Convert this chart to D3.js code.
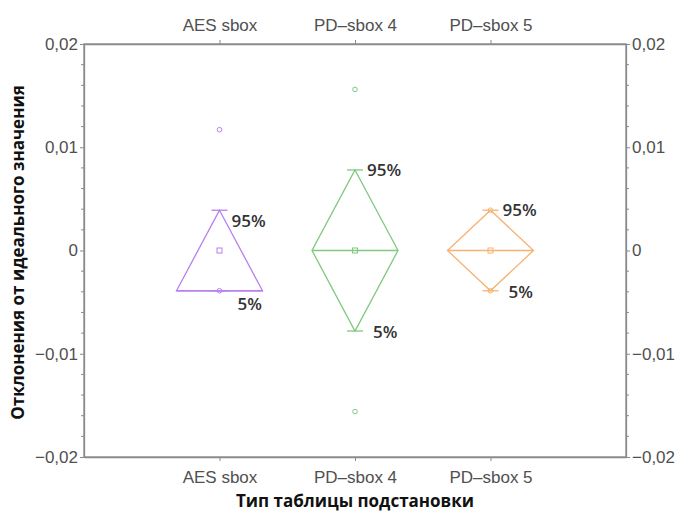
<!DOCTYPE html>
<html>
<head>
<meta charset="utf-8">
<script src="https://cdn.jsdelivr.net/npm/d3@7"></script>
<style>
  body { margin: 0; background: #fff; }
  svg { font-family: "Open Sans", "Noto Sans", sans-serif; }
</style>
</head>
<body>
<svg></svg>
<script>
// категории и значения
const categories = ["AES sbox", "PD–sbox 4", "PD–sbox 5"];
const colors = ["#b77ff2", "#80c880", "#f6b273"];
const means = [0, 0, 0];
const p95 = [0.0039, 0.0078, 0.0039];
const p5 = [-0.0039, -0.0078, -0.0039];
const widest = [-0.0039, 0, 0];          // уровень, где фигура самая широкая
const outliers = [[0.0117], [0.0156, -0.0156], []];
const circleMarks = [[-0.0039], [], [0.0039, -0.0039]];
const yTicks = [-0.02, -0.01, 0, 0.01, 0.02];

document.addEventListener("DOMContentLoaded", function() {
    const width = 682;
    const height = 512;
    const svg = d3.select("svg")
        .attr("width", width)
        .attr("height", height);

    const left = 84, right = 626, top = 44, bottom = 457;

    const x = d3.scalePoint()
        .domain(categories)
        .range([left, right])
        .padding(1);

    const y = d3.scaleLinear()
        .domain([-0.02, 0.02])
        .range([bottom, top]);

    const ru = d3.formatLocale({decimal: ",", thousands: " ", grouping: [3], currency: ["", ""], minus: "\u2212"});
    const fmt = v => v === 0 ? "0" : ru.format(".2f")(v);

    const minor = d3.range(-0.02, 0.0201, 0.002).map(v => +v.toFixed(4));

    // оси
    const axes = [
        {g: d3.axisLeft(y).tickValues(yTicks).tickFormat(fmt).tickSize(4).tickPadding(2), t: `translate(${left},0)`},
        {g: d3.axisRight(y).tickValues(yTicks).tickFormat(fmt).tickSize(4).tickPadding(2), t: `translate(${right},0)`},
        {g: d3.axisBottom(x).tickSize(4).tickPadding(10), t: `translate(0,${bottom})`},
        {g: d3.axisTop(x).tickSize(4).tickPadding(9), t: `translate(0,${top})`}
    ];
    axes.forEach(a => {
        const ax = svg.append("g")
            .attr("transform", a.t)
            .call(a.g.tickSizeOuter(0));
        ax.select(".domain").attr("stroke", "#8a8a8a").attr("stroke-width", 1.3);
        ax.selectAll(".tick line").attr("stroke", "#8a8a8a");
        ax.selectAll(".tick text").attr("fill", "#505050").style("font-size", "17px");
    });
    // рамка
    svg.append("rect")
        .attr("x", left).attr("y", top)
        .attr("width", right - left).attr("height", bottom - top)
        .attr("fill", "none").attr("stroke", "#8a8a8a").attr("stroke-width", 1.3);

    // мелкие засечки
    [[left, -1], [right, 1]].forEach(([ax, dir]) => {
        svg.append("g").selectAll("line")
            .data(minor.filter(v => !yTicks.some(t => Math.abs(t - v) < 1e-9)))
            .join("line")
            .attr("x1", ax).attr("x2", ax + dir * 3)
            .attr("y1", d => y(d)).attr("y2", d => y(d))
            .attr("stroke", "#8a8a8a");
    });

    // подписи осей
    svg.append("text")
        .attr("x", (left + right) / 2)
        .attr("y", 507)
        .attr("text-anchor", "middle")
        .style("font-size", "17px")
        .style("font-weight", "bold")
        .attr("fill", "#111")
        .text("Тип таблицы подстановки");

    svg.append("text")
        .attr("transform", `translate(24,${(top + bottom) / 2 + 2}) rotate(-90)`)
        .attr("text-anchor", "middle")
        .style("font-size", "17px")
        .style("font-weight", "bold")
        .attr("fill", "#111")
        .text("Отклонения от идеального значения");

    // фигуры
    const halfW = 43, capW = 8;
    categories.forEach((c, i) => {
        const cx = x(c);
        const g = svg.append("g")
            .attr("stroke", colors[i])
            .attr("fill", "none")
            .attr("stroke-width", 1.3);

        const pts = [[cx, y(p95[i])], [cx + halfW, y(widest[i])], [cx, y(p5[i])], [cx - halfW, y(widest[i])]];
        g.append("path").attr("d", d3.line()(pts) + "Z");
        g.append("line")
            .attr("x1", cx - halfW).attr("x2", cx + halfW)
            .attr("y1", y(widest[i])).attr("y2", y(widest[i]));

        [p95[i], p5[i]].forEach(v => {
            g.append("line")
                .attr("x1", cx - capW).attr("x2", cx + capW)
                .attr("y1", y(v)).attr("y2", y(v));
        });

        g.append("rect")
            .attr("x", cx - 2.5).attr("y", y(means[i]) - 2.5)
            .attr("width", 5).attr("height", 5)
            .attr("stroke-width", 1);

        g.selectAll("circle.mark")
            .data(circleMarks[i].concat(outliers[i]))
            .join("circle")
            .attr("cx", cx).attr("cy", d => y(d))
            .attr("r", 2.3)
            .attr("stroke-width", 1);

        const dy95 = widest[i] === p5[i] ? 11 : 0;
        const dy5 = widest[i] === p5[i] ? 13 : 1;
        svg.append("text")
            .attr("x", cx + 12).attr("y", y(p95[i]) + dy95)
            .attr("dy", "0.35em")
            .style("font-size", "17px").style("font-weight", 600)
            .attr("fill", "#333")
            .text("95%");
        svg.append("text")
            .attr("x", cx + 18).attr("y", y(p5[i]) + dy5)
            .attr("dy", "0.35em")
            .style("font-size", "17px").style("font-weight", 600)
            .attr("fill", "#333")
            .text("5%");
    });
});
</script>
</body>
</html>
